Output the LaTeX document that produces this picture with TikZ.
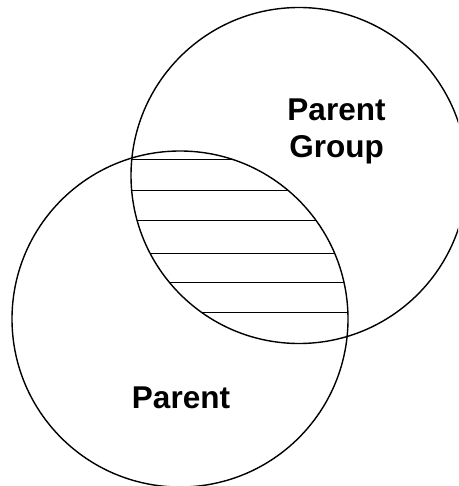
\documentclass[tikz,border=0pt]{standalone}
\usepackage{fontspec}
\setmainfont{Liberation Sans}
\usetikzlibrary{positioning}

\begin{document}
\begin{tikzpicture}[x=1pt, y=-1pt, line width=1.4pt,
    set/.style={draw, circle, minimum size=336pt, inner sep=0pt},
    setlabel/.style={font=\bfseries\fontsize{31.5}{37}\selectfont, align=center, inner sep=0pt}]
    \useasboundingbox (0,0) rectangle (458,486);
    \clip (0,0) rectangle (458,486);

    % the two sets
    \node [set] (group) at (299,175.5) {};
    \node [set] (parent) at (180,319) {};

    % shared part
    \begin{scope}
        \clip (group.center) circle (168);
        \clip (parent.center) circle (168);
        \foreach \y in {159.3, 190.6, 220.3, 253.3, 282.7, 312.7}
            \draw (100,\y) -- (400,\y);
    \end{scope}

    \node [setlabel, anchor=north] (grouptext) at (336.5,97.7) {Parent\\Group};
    \node [setlabel, anchor=base] (parenttext) at (181,408.3) {Parent};
\end{tikzpicture}
\end{document}
